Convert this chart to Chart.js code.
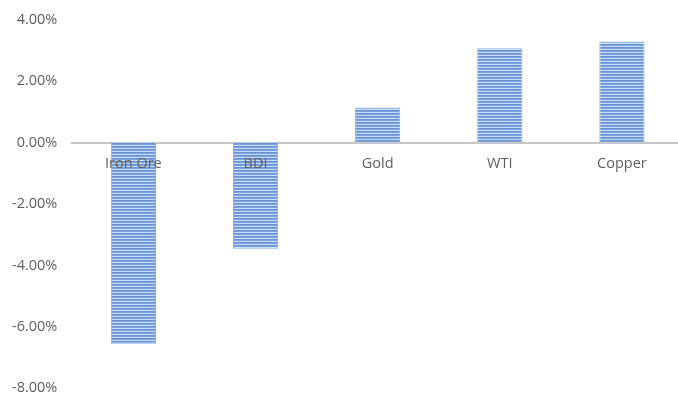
<!DOCTYPE html>
<html>
<head>
<meta charset="utf-8">
<script src="https://cdn.jsdelivr.net/npm/chart.js@4/dist/chart.umd.min.js"></script>
<style>
  html, body { margin: 0; padding: 0; background: #fff; overflow: hidden; }
  #wrap { width: 683px; height: 416px; margin-top: -4px; }
</style>
</head>
<body>
<div id="wrap"><canvas id="myBarChart"></canvas></div>
<script>
const categories = ["Iron Ore", "BDI", "Gold", "WTI", "Copper"];
const changes = [-6.55, -3.46, 1.14, 3.07, 3.29];
const yMin = -8, yMax = 4, yStep = 2;

document.addEventListener("DOMContentLoaded", function () {
  // horizontal stripe fill like the original
  function stripes() {
    const c = document.createElement("canvas");
    c.width = 3; c.height = 3;
    const g = c.getContext("2d");
    const rows = ["#6893d6", "#7ca3dd", "#c9dbf3"];
    rows.forEach((col, i) => {
      g.fillStyle = col;
      g.fillRect(0, i, 3, 1);
    });
    return g.createPattern(c, "repeat");
  }

  const ctx = document.getElementById("myBarChart").getContext("2d");
  const textColor = "#5f5f5f";
  const font = { family: "'Open Sans', sans-serif", size: 14.5 };

  new Chart(ctx, {
    type: "bar",
    data: {
      labels: categories,
      datasets: [
        {
          data: changes,
          backgroundColor: stripes(),
          borderColor: "#8aacdf",
          borderWidth: 1,
          barPercentage: 0.37,
          categoryPercentage: 1,
        },
      ],
    },
    options: {
      responsive: true,
      maintainAspectRatio: false,
      animation: false,
      layout: { padding: { top: 8, bottom: 0, left: -3, right: 0 } },
      plugins: { legend: { display: false }, tooltip: { enabled: false } },
      scales: {
        x: {
          position: { y: 0 },
          grid: { display: false, drawTicks: false },
          border: { display: true, color: "#c6c6c6", width: 2 },
          ticks: { color: textColor, font: font, padding: 13, maxRotation: 0, z: 1 },
        },
        y: {
          min: yMin,
          max: yMax,
          grid: { display: false, drawTicks: false },
          border: { display: false },
          ticks: {
            stepSize: yStep,
            color: textColor,
            font: font,
            padding: 15,
            callback: (v) => v.toFixed(2) + "%",
          },
        },
      },
    },
  });
});
</script>
</body>
</html>
